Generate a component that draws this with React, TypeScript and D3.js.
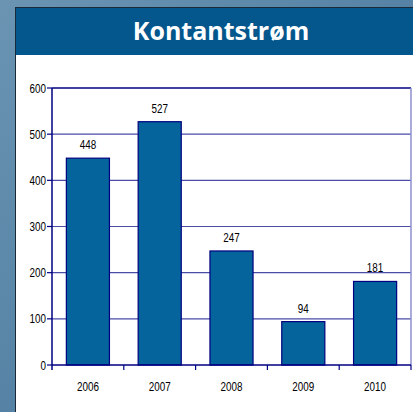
import React from "react";
import * as d3 from "d3";

const categories = ["2006", "2007", "2008", "2009", "2010"];
const values = [448, 527, 247, 94, 181];
const yTicks = [0, 100, 200, 300, 400, 500, 600];
const title = "Kontantstrøm";

const font = "'Liberation Sans', Arial, sans-serif";

function NText({ x, y, anchor, children }: { x: number; y: number; anchor: string; children: React.ReactNode }) {
  return (
    <text transform={`translate(${x},${y}) scale(0.76,1)`} textAnchor={anchor} fontFamily={font} fontSize={13} fill="#000">
      {children}
    </text>
  );
}

export default function App() {
  const W = 413, H = 412;
  const left = 52, right = 411, top = 88, bottom = 365;
  const x = d3.scaleBand<string>().domain(categories).range([left, right]).paddingInner(0.4).paddingOuter(0.2);
  const xb = d3.scaleBand<string>().domain(categories).range([left, right]);
  const y = d3.scaleLinear().domain([0, 600]).range([bottom, top]);
  return (
    <svg width={W} height={H} style={{ position: "absolute", left: 0, top: 0 }}>
      <defs>
        <linearGradient id="bg" x1="0" y1="0" x2="1" y2="1">
          <stop offset="0" stopColor="#6a94b2" />
          <stop offset="0.5" stopColor="#5683a5" />
          <stop offset="1" stopColor="#5f8bab" />
        </linearGradient>
      </defs>
      <rect x={0} y={0} width={W} height={H} fill="url(#bg)" />
      <rect x={15} y={7} width={W - 15} height={H - 7} fill="#1a2a38" />
      <rect x={16} y={8} width={W - 16} height={47} fill="#04578c" />
      <rect x={16} y={55} width={W - 16} height={H - 55} fill="#ffffff" />
      <text x={221} y={40} textAnchor="middle" fill="#ffffff" fontFamily="'Open Sans', 'Noto Sans', sans-serif" fontWeight={700} fontSize={25}>
        {title}
      </text>
      {yTicks.map((t) => (
        <g key={t}>
          {t > 0 && t < 600 && <line x1={left} x2={right} y1={y(t)} y2={y(t)} stroke="#4b4ba8" strokeWidth={1.2} />}
          <line x1={left - 5} x2={left} y1={y(t)} y2={y(t)} stroke="#000080" strokeWidth={1.2} />
          <NText x={left - 6} y={y(t) + 4.5} anchor="end">{t}</NText>
        </g>
      ))}
      <line x1={left} x2={right} y1={top} y2={top} stroke="#000080" strokeWidth={1.5} />
      <line x1={right} x2={right} y1={top} y2={bottom} stroke="#8f8fcf" strokeWidth={1.5} />
      {categories.map((c, i) => (
        <g key={c}>
          <rect x={x(c)} y={y(values[i])} width={x.bandwidth()} height={bottom - y(values[i])} fill="#05649b" stroke="#000080" strokeWidth={1.2} />
          <NText x={x(c)! + x.bandwidth() / 2} y={y(values[i]) - 9} anchor="middle">{values[i]}</NText>
          <NText x={xb(c)! + xb.bandwidth() / 2} y={391} anchor="middle">{c}</NText>
          <line x1={xb(c)! + xb.bandwidth()} x2={xb(c)! + xb.bandwidth()} y1={bottom} y2={bottom + 5} stroke="#000080" strokeWidth={1.2} />
        </g>
      ))}
      <line x1={left} x2={left} y1={top} y2={bottom + 5} stroke="#000080" strokeWidth={1.5} />
      <line x1={left} x2={right} y1={bottom} y2={bottom} stroke="#000080" strokeWidth={1.5} />
    </svg>
  );
}
